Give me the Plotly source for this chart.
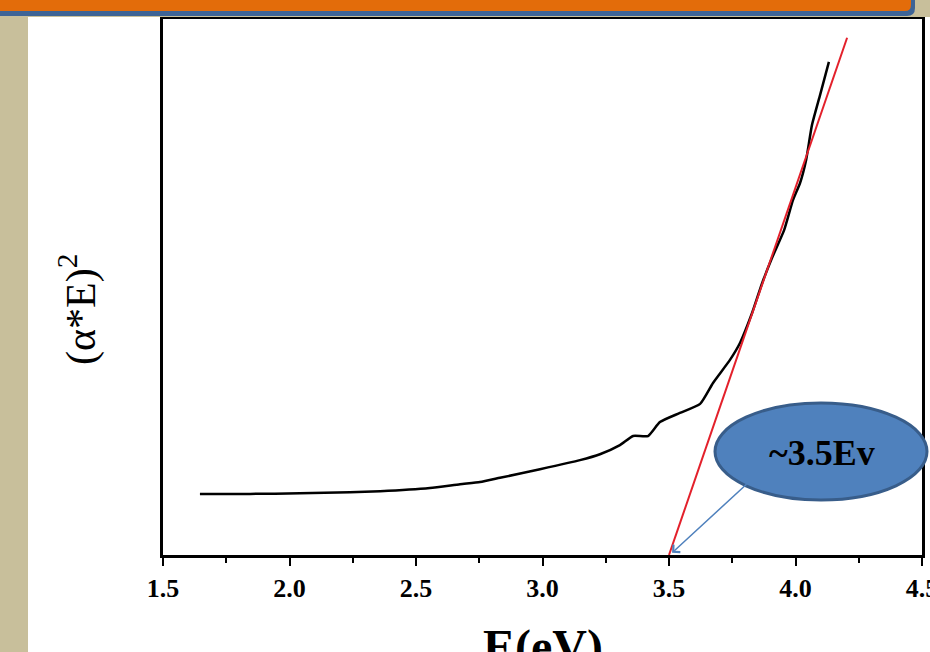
import plotly.graph_objects as go

# ---- data ----
energy_ev = [1.646, 1.844, 2.041, 2.239, 2.358, 2.555, 2.674, 2.753, 2.832, 2.990,
             3.148, 3.227, 3.306, 3.358, 3.417, 3.464, 3.543, 3.623, 3.674, 3.741,
             3.781, 3.828, 3.868, 3.907, 3.955, 3.990, 4.018, 4.042, 4.065, 4.097, 4.132]
alpha_e_sq = [11.4, 11.4, 11.5, 11.7, 11.9, 12.5, 13.2, 13.6, 14.4, 16.0,
              17.7, 18.8, 20.5, 22.2, 22.2, 24.8, 26.5, 28.2, 32.1, 36.4,
              39.6, 45.1, 50.7, 55.4, 60.6, 66.2, 69.4, 73.7, 80.2, 85.8, 92.0]
fit_e = [3.50, 4.204]
fit_y = [0.0, 96.5]
x_ticks = [1.5, 2.0, 2.5, 3.0, 3.5, 4.0, 4.5]
x_minor = [1.75, 2.25, 2.75, 3.25, 3.75, 4.25]
gap_label = "~3.5Ev"
gap_tip = (3.512, 0.4)

# ---- geometry helpers (pixel -> paper) ----
W, H = 930, 652
L, R, T, B = 163, 922, 19, 555
def px(x):
    return (x - L) / (R - L)
def py(y):
    return (B - y) / (B - T)

fig = go.Figure()
fig.add_trace(go.Scatter(x=energy_ev, y=alpha_e_sq, mode="lines",
                         line=dict(color="black", width=2.5, shape="spline", smoothing=0.5),
                         showlegend=False, hoverinfo="skip"))
fig.add_trace(go.Scatter(x=fit_e, y=fit_y, mode="lines",
                         line=dict(color="#E3202B", width=2),
                         showlegend=False, hoverinfo="skip"))

serif = "Liberation Serif"
shapes = [
    dict(type="rect", xref="paper", yref="paper", x0=px(0), x1=px(28), y0=py(H), y1=py(0),
         fillcolor="#C8BF9B", line=dict(width=0), layer="above"),
    dict(type="rect", xref="paper", yref="paper", x0=px(900), x1=px(W), y0=py(17), y1=py(0),
         fillcolor="#C8BF9B", line=dict(width=0), layer="above"),
    dict(type="rect", xref="paper", yref="paper", x0=px(0), x1=px(W), y0=py(17), y1=py(14),
         fillcolor="#C8BF9B", line=dict(width=0), layer="above"),
    dict(type="path", xref="paper", yref="paper",
         path=f"M {px(0)},{py(-5)} L {px(915)},{py(-5)} L {px(915)},{py(8)} "
              f"Q {px(915)},{py(16)} {px(907)},{py(16)} L {px(0)},{py(16)} Z",
         fillcolor="#3E6496", line=dict(width=0), layer="above"),
    dict(type="path", xref="paper", yref="paper",
         path=f"M {px(0)},{py(-5)} L {px(911)},{py(-5)} L {px(911)},{py(5)} "
              f"Q {px(911)},{py(11)} {px(905)},{py(11)} L {px(0)},{py(11)} Z",
         fillcolor="#E36C0A", line=dict(width=0), layer="above"),
    dict(type="circle", xref="paper", yref="paper", x0=px(715), x1=px(927), y0=py(500), y1=py(403),
         fillcolor="#4F81BD", line=dict(color="#385D8A", width=3), layer="above"),
]

annotations = [
    dict(xref="paper", yref="paper", x=px(822), y=py(453), text=f"<b>{gap_label}</b>",
         showarrow=False, font=dict(family=serif, size=36, color="black"),
         xanchor="center", yanchor="middle"),
    dict(x=gap_tip[0], y=gap_tip[1], xref="x", yref="y", text="",
         showarrow=True, ax=76, ay=-70, arrowhead=4, arrowsize=1.3, arrowwidth=1.5,
         arrowcolor="#4F81BD", standoff=0),
    dict(xref="paper", yref="paper", x=px(543), y=py(618), text="<b>E(eV)</b>",
         showarrow=False, font=dict(family=serif, size=48, color="black"),
         xanchor="center", yanchor="top"),
    dict(xref="paper", yref="paper", x=px(78), y=py(310), text="(α*E)<sup>2</sup>",
         showarrow=False, textangle=-90, font=dict(family=serif, size=42, color="black"),
         xanchor="center", yanchor="middle"),
]

fig.update_layout(
    width=W, height=H,
    margin=dict(l=L, r=W - R, t=T, b=H - B, pad=0, autoexpand=False),
    paper_bgcolor="white", plot_bgcolor="white",
    shapes=shapes, annotations=annotations,
    xaxis=dict(range=[1.5, 4.5], tickmode="array", tickvals=x_ticks,
               ticktext=[f"<b>{v:.1f}</b>" for v in x_ticks],
               ticklabeloverflow="allow", automargin=False,
               ticks="outside", ticklen=8, tickwidth=2, tickcolor="black",
               minor=dict(tickmode="array", tickvals=x_minor,
                          ticks="outside", ticklen=5, tickwidth=2, tickcolor="black"),
               showline=True, linecolor="black", linewidth=2.5, mirror=True,
               showgrid=False, zeroline=False,
               tickfont=dict(family=serif, size=26, color="black")),
    yaxis=dict(range=[0, 100], showticklabels=False, ticks="", automargin=False,
               showline=True, linecolor="black", linewidth=2.5, mirror=True,
               showgrid=False, zeroline=False),
)

fig.write_html("out.html")
